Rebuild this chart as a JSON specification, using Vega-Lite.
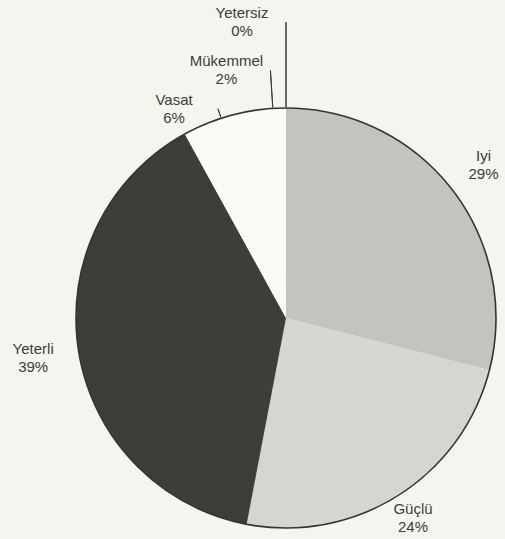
{
  "$schema": "https://vega.github.io/schema/vega-lite/v6.json",
  "autosize": "none",
  "width": 438,
  "height": 438,
  "padding": {"left": 67, "top": 99, "right": 0, "bottom": 2},
  "background": "#f5f5ef",
  "config": {"view": {"stroke": null}},
  "datasets": {
    "shares": [
      {"name": "Iyi", "pct": 29, "rank": 1, "label": "Iyi\n29%"},
      {"name": "Güçlü", "pct": 24, "rank": 2, "label": "Güçlü\n24%"},
      {"name": "Yeterli", "pct": 39, "rank": 3, "label": "Yeterli\n39%"},
      {"name": "Vasat", "pct": 6, "rank": 4, "label": "Vasat\n6%"},
      {"name": "Mükemmel", "pct": 2, "rank": 5, "label": "Mükemmel\n2%"},
      {"name": "Yetersiz", "pct": 0, "rank": 6, "label": "Yetersiz\n0%"}
    ],
    "whole": [{"total": 100}]
  },
  "layer": [
    {
      "data": {"name": "shares"},
      "mark": {"type": "arc", "radius": 210},
      "encoding": {
        "theta": {"field": "pct", "type": "quantitative", "stack": true},
        "order": {"field": "rank", "type": "quantitative"},
        "color": {
          "field": "name",
          "type": "nominal",
          "legend": null,
          "scale": {
            "domain": ["Iyi", "Güçlü", "Yeterli", "Vasat", "Mükemmel", "Yetersiz"],
            "range": ["#c4c4bf", "#d6d6d1", "#3d3d3a", "#fbfbf6", "#fbfbf6", "#fbfbf6"]
          }
        }
      }
    },
    {
      "data": {"name": "whole"},
      "mark": {"type": "arc", "radius": 210, "fillOpacity": 0, "stroke": "#333330", "strokeWidth": 1.6},
      "encoding": {
        "theta": {"field": "total", "type": "quantitative", "stack": true}
      }
    },
    {
      "data": {"name": "shares"},
      "transform": [
        {"stack": "pct", "groupby": [], "sort": [{"field": "rank", "order": "ascending"}], "as": ["s0", "s1"]},
        {"filter": "datum.pct < 10"}
      ],
      "mark": {"type": "arc", "radius2": 211, "padAngle": 0.6, "fillOpacity": 0, "stroke": "#3a3a37", "strokeWidth": 1},
      "encoding": {
        "theta": {"field": "s0", "type": "quantitative"},
        "theta2": {"field": "s1"},
        "radius": {
          "field": "pct",
          "type": "quantitative",
          "scale": {"type": "linear", "domain": [0, 2, 6, 24, 29, 39], "range": [296, 248, 220, 237, 250, 256]}
        }
      }
    },
    {
      "data": {"name": "shares"},
      "mark": {"type": "text", "dy": -9, "lineBreak": "\n", "align": "center", "baseline": "middle", "font": "Liberation Sans", "fontSize": 15, "lineHeight": 18, "fill": "#3c3c3a"},
      "encoding": {
        "theta": {"field": "pct", "type": "quantitative", "stack": true},
        "order": {"field": "rank", "type": "quantitative"},
        "radius": {
          "field": "pct",
          "type": "quantitative",
          "scale": {"type": "linear", "domain": [0, 2, 6, 24, 29, 39], "range": [296, 248, 220, 237, 250, 256]}
        },
        "text": {"condition": {"test": "datum.pct >= 10", "field": "label", "type": "nominal"}, "value": ""}
      }
    },
    {
      "data": {"name": "shares"},
      "mark": {"type": "text", "dx": -44, "dy": -9, "lineBreak": "\n", "align": "center", "baseline": "middle", "font": "Liberation Sans", "fontSize": 15, "lineHeight": 18, "fill": "#3c3c3a"},
      "encoding": {
        "theta": {"field": "pct", "type": "quantitative", "stack": true},
        "order": {"field": "rank", "type": "quantitative"},
        "radius": {
          "field": "pct",
          "type": "quantitative",
          "scale": {"type": "linear", "domain": [0, 2, 6, 24, 29, 39], "range": [296, 248, 220, 237, 250, 256]}
        },
        "text": {"condition": {"test": "datum.pct < 10", "field": "label", "type": "nominal"}, "value": ""}
      }
    }
  ]
}
